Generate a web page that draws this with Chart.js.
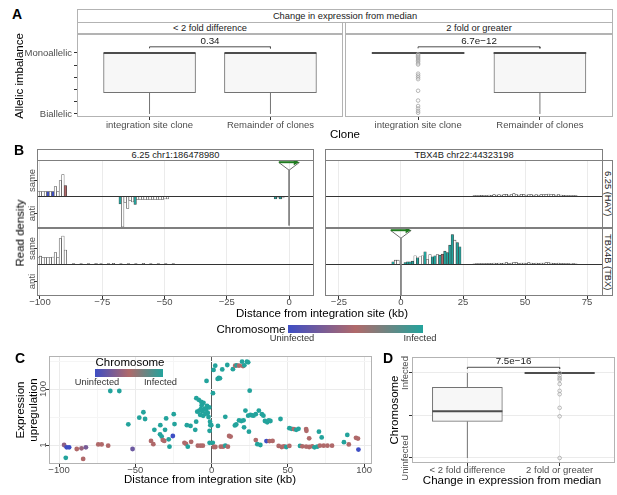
<!DOCTYPE html>
<html><head><meta charset="utf-8">
<script src="https://cdn.jsdelivr.net/npm/chart.js@4.4.1/dist/chart.umd.min.js"></script>
<style>
html,body{margin:0;padding:0;background:#fff}
body{width:617px;height:495px;position:relative;overflow:hidden;font-family:"Liberation Sans",Arial,Helvetica,sans-serif}
.strip{position:absolute;box-sizing:border-box;border:1px solid #b3b3b3;background:#fff;color:#1a1a1a;font-size:9.3px;display:flex;align-items:center;justify-content:center;white-space:nowrap;overflow:hidden}
.vstrip{writing-mode:vertical-rl}
.lbl{position:absolute;white-space:nowrap;line-height:1;color:#000}
.vlbl{writing-mode:vertical-rl}
.grad{position:absolute}
</style></head><body>
<script>
// ================= DATA =================
// Panel A : allelic imbalance (0 = Biallelic, 1 = Monoallelic)
const aFacets = ['< 2 fold difference', '2 fold or greater'];
const aClones = ['integration site clone', 'Remainder of clones'];
const aYLabels = ['Biallelic', 'Monoallelic'];
// box stats: [lower whisker, Q1, median, Q3, upper whisker]
const aSmallInt = [0, 0.35, 1, 1, 1];
const aSmallRem = [0, 0.35, 1, 1, 1];
const aLargeInt = [1, 1, 1, 1, 1];
const aLargeRem = [0, 0.35, 1, 1, 1];
const aLargeIntOutliers = [0.98,0.96,0.94,0.92,0.9,0.88,0.86,0.83,0.81,0.66,0.63,0.6,0.57,0.38,0.22,0.13,0.09,0.05,0.02];
const aPValues = ['0.34', '6.7e\u221212'];

// Panel B : read density (positive = same strand, negative = anti)
const bFacets = ['6.25 chr1:186478980', 'TBX4B chr22:44323198'];
const bClones = ['6.25 (HAY)', 'TBX4B (TBX)'];
const bHayChr1SameX = [-100.8,-99.8,-98.8,-97.8,-96.8,-95.8,-94.8,-93.8,-92.8,-91.8,-90.8,-89.8];
const bHayChr1SameY = [5,5,5,5,5,5,5,10,5,16,22,11];
const bHayChr1SameC = [null,null,null,null,0,null,0,null,null,null,null,0.5];
const bHayChr1AntiX = [-67.8,-66.8,-65.8,-64.8,-63.8,-62.8,-61.8,-60.8,-59.8,-58.8,-57.8,-56.8,-55.8,-54.8,-53.8,-52.8,-51.8,-50.8,-49.8,-48.8,-5.5,-4.5,-3.5,-2.5];
const bHayChr1AntiY = [-7.5,-30.5,-6,-12,-4,-5.5,-8,-3,-3,-3,-3,-3,-3,-3,-3,-3,-3,-3,-2.5,-2.5,-2.5,-1.5,-2.5,-1.5];
const bHayChr1AntiC = [1,null,null,null,null,null,1,null,null,null,null,null,null,null,null,null,null,null,null,null,1,null,1,null];
const bChr22SmallX = [29.5,30.5,31.5,32.5,33.5,34.5,35.5,36.5,37.5,38.5,39.5,40.5,41.5,42.5,43.5,44.5,45.5,46.5,47.5,48.5,49.5,50.5,51.5,52.5,53.5,54.5,55.5,56.5,57.5,58.5,59.5,60.5,61.5,62.5,63.5,64.5,65.5,66.5,67.5,68.5,69.5,70.5];
const bHayChr22SameY = [0.8,1,0.8,1.2,1,1,1.5,1.2,1.8,1.5,2,1.5,1.8,2.2,1.5,2,2.8,2,1.5,2.2,1.8,1.5,2,1.8,1.5,2,1.5,1.8,2,2.2,2.5,2,1.8,1.5,2,1.5,1.2,1,1,0.8,1,0.8];
const bTbxChr1SameX = [-100.8,-99.8,-98.8,-97.8,-96.8,-95.8,-94.8,-93.8,-92.8,-91.8,-90.8,-89.8,-86.5,-83.5,-80.5,-77.5,-75.5,-72.5,-70.5,-67.5,-64.5,-61.5,-58.5,-55.5,-52.5,-49.5,-46.5];
const bTbxChr1SameY = [7,8.3,7,7,7,7,7.5,12,7,26,28.5,14.5,1,0.8,1,1.2,1,1,1.2,0.8,1,1,1.2,0.8,1,0.8,1];
const bTbxChr22SameX = [-3.2,-2.2,-1.2,1.7,2.7,3.7,4.7,5.7,6.7,7.7,8.7,9.7,10.7,11.7,12.7,13.7,14.7,15.7,16.7,17.7,18.7,19.7,20.7,21.7,22.7,23.7];
const bTbxChr22SameY = [2.7,4.3,4.3,2,2.7,2.7,3.3,8.7,6.7,7.7,8.7,12.7,5,10,7.7,8.7,10,9.3,10.3,13.3,12,19.3,30,24.3,22,17.7];
const bTbxChr22SameC = [1,null,null,1,1,1,1,null,1,null,null,1,null,null,1,1,null,1,0.5,1,1,1,1,null,1,1];
const bTbxChr22SmallY = [0.6,0.8,0.8,1,0.8,1,1.2,1,1.5,1.2,1.5,1.2,1.5,1.8,1.2,1.5,2.2,1.8,1.2,1.5,1.5,1.2,1.8,1.5,1.2,1.5,1.2,1.5,1.5,1.8,2,1.5,1.2,1.2,1.5,1.2,1,0.8,0.8,0.6,0.8,0.6];
const bSameAnti = ['same', 'anti'];
const bLeftTicks = [-100, -75, -50, -25, 0];
const bRightTicks = [-25, 0, 25, 50, 75];

// Panel C : expression upregulation vs distance (chromosome 0 = uninfected, 1 = infected)
const cDist = [-96.7,-95.0,-93.4,-88.4,-85.3,-82.4,-95.6,-84.2,-74.3,-72.1,-67.8,-66.4,-60.5,-54.6,-51.8,-47.4,-44.7,-43.6,-39.7,-38.2,
-37.5,-33.6,-33.8,-32.7,-32.0,-31.0,-29.8,-30.5,-28.1,-27.6,-25.4,-24.8,-24.3,-17.8,-16.8,-16.2,-15.6,-13.8,-13.4,-9.0,
-7.2,-5.7,-10.7,-10.1,-9.4,-10.0,-8.4,-6.8,-5.3,-8.0,-7.0,-6.0,-4.5,-3.5,-2.5,-7.5,-5.5,-4.0,-2.0,-1.5,
-3.0,-6.5,-1.0,-0.8,-1.3,-1.3,0.8,-3.3,1.3,2.4,4.0,4.8,5.5,0.9,7.0,10.3,14.0,15.5,16.5,18.0,
20.0,20.6,21.5,23.2,24.0,25.0,9.0,4.2,-0.2,1.5,2.5,6.0,7.5,9.0,10.7,11.5,12.5,15.3,16.2,18.0,
19.5,21.0,22.2,24.0,25.5,26.5,27.5,29.0,31.0,33.0,34.0,35.0,36.5,38.6,37.5,24.5,21.3,29.0,30.0,32.0,
36.0,38.0,40.0,44.0,46.0,47.5,49.0,51.0,45.2,51.0,52.5,54.0,55.5,57.0,62.0,62.2,58.0,59.5,62.0,64.0,
66.0,67.5,64.0,69.3,70.4,72.2,71.0,73.5,76.0,79.0,86.8,89.0,90.0,94.7,96.0,96.3];
const cUpreg = [1.0,0.83,0.83,0.72,0.76,0.83,0.35,0.32,1.05,1.05,0.95,85,85,5.5,0.72,9.5,14.8,8.5,1.4,1.07,
3.5,5.1,2.4,2.0,1.5,1.4,8.9,3.5,1.6,0.87,2.1,12.6,5.6,1.2,1.1,5.1,0.87,4.8,1.3,0.95,
0.95,0.95,3.5,6.8,15.5,47,41,35,32,17,19,16,20,18,14,12,11,13,10,22,
25,26,6.8,5.1,3.2,1.2,1.2,195,480,680,230,250,240,71,500,720,510,680,700,680,
950,660,700,950,900,87,10.2,4.8,5.1,0.85,0.85,0.87,0.87,0.95,0.87,2.1,2.0,5.0,5.4,7.6,
7.2,7.6,17,11.2,12,11.5,11.2,12.6,17,12.6,11.2,7.2,6.5,7.2,7.5,3.0,4.3,1.5,1.07,1.0,
1.38,1.38,1.4,0.93,0.85,0.9,0.85,0.93,8.5,4.0,3.8,3.7,3.5,3.8,3.7,3.2,0.93,0.9,0.88,0.85,
0.9,0.83,1.74,0.87,3.0,1.86,0.95,0.95,0.95,0.95,1.26,2.3,1.05,1.8,1.7,0.69];
const cChrom = [0.35,0,0,0.5,0.4,0.25,1,0.5,0.5,0.5,0.5,1,1,1,0.2,1,1,1,0.5,0.5,
1,1,1,1,0.5,0.5,1,1,1,1,0,1,1,0.5,0.5,1,1,1,0.5,0.5,
0.5,0.5,1,1,1,1,1,1,1,1,1,1,1,1,1,1,1,1,1,1,
1,1,1,1,1,1,1,1,1,1,1,1,1,1,1,1,1,0.5,1,0.5,
1,0.5,1,1,1,1,1,1,1,0.5,0.5,0.5,0.5,1,0.5,0.5,0.5,1,1,1,
1,1,1,1,1,1,1,1,1,1,1,1,1,1,1,1,1,0.5,1,1,
0,0.5,0.5,0.5,0.5,0.5,1,0.5,1,1,1,0.5,1,1,0.5,0.5,1,0.5,0.5,0.5,
0.5,1,0.5,1,1,1,0.5,0.5,0.5,0.5,1,1,0.5,0.5,0.5,0];
const cYTicks = [1, 100];
const cXTicks = [-100, -50, 0, 50, 100];

// Panel D : chromosome by expression change
const dCategories = ['< 2 fold difference', '2 fold or greater'];
const dYLabels = ['Uninfected', 'Infected'];
const dBoxSmall = [0, 0.43, 0.55, 0.83, 1];
const dBoxLarge = [1, 1, 1, 1, 1];
const dLargeOutliers = [1.0,0.97,0.94,0.92,0.87,0.79,0.75,0.59,0.49,0.0];
const dPValue = '7.5e\u221216';

// ================= SETUP =================
const FONT = '"Liberation Sans", Arial, Helvetica, sans-serif';
Chart.defaults.font.family = FONT;
Chart.defaults.font.size = 9.5;
Chart.defaults.color = '#4d4d4d';
Chart.defaults.animation = false;
Chart.defaults.events = [];
Chart.defaults.plugins.legend.display = false;
Chart.defaults.plugins.tooltip.enabled = false;
const TICK = '#4d4d4d';
const LOW = [62,78,196], MID = [176,105,106], HIGH = [35,163,156];
const rgb = c => `rgb(${c[0]},${c[1]},${c[2]})`;
function chromColor(v){
  if (v === null || v === undefined) return '#ffffff';
  let a, b, t;
  if (v <= 0.5) { a = LOW; b = MID; t = v / 0.5; } else { a = MID; b = HIGH; t = (v - 0.5) / 0.5; }
  return rgb(a.map((q, i) => Math.round(q + (b[i] - q) * t)));
}
const minus = v => (v < 0 ? '\u2212' + Math.abs(v) : String(v));

const framePlugin = { id:'frame', afterDatasetsDraw(ch, a, o){
  if (!o || !o.color) return;
  const c = ch.chartArea, x = ch.ctx; x.save(); x.strokeStyle = o.color; x.lineWidth = 1;
  x.strokeRect(c.left + 0.5, c.top + 0.5, c.right - c.left - 1, c.bottom - c.top - 1); x.restore(); } };
// draws tick labels / annotations at positions given by the chart's own scales
const txtPlugin = { id:'txt', afterDraw(ch, a, o){
  const items = (o && o.items) || []; const ctx = ch.ctx; const ca = ch.chartArea;
  for (let i = 0; i < items.length; i++) {
    const it = items[i];
    const px = (it.xl !== undefined) ? ca.left + it.xl : ch.scales.x.getPixelForValue(it.x);
    const py = (it.yb !== undefined) ? ca.bottom + it.yb : ch.scales.y.getPixelForValue(it.y);
    ctx.save(); ctx.translate(px + (it.dx || 0), py + (it.dy || 0));
    if (it.rot) ctx.rotate(it.rot * Math.PI / 180);
    ctx.font = (it.size || 9.5) + 'px ' + FONT; ctx.fillStyle = it.color || TICK;
    ctx.textAlign = it.align || 'center'; ctx.textBaseline = it.base || 'middle';
    ctx.fillText(it.text, 0, 0); ctx.restore();
  } } };
Chart.register(framePlugin, txtPlugin);

function xLabels(values, fn, yb){ return values.map(v => ({ x: v, yb: yb, text: fn(v) })).filter(it => it.text !== ''); }
function yLabels(values, fn, xl, rot, align){ return values.map(v => ({ y: v, xl: xl, text: fn(v), rot: rot || 0, align: align || 'center' })).filter(it => it.text !== ''); }

function mkCanvas(x, y, w, h, m){
  const W = w + m.l + m.r, H = h + m.t + m.b;
  const d = document.createElement('div');
  d.style.cssText = `position:absolute;left:${x - m.l}px;top:${y - m.t}px;width:${W}px;height:${H}px`;
  const c = document.createElement('canvas'); c.width = W; c.height = H;
  c.style.width = W + 'px'; c.style.height = H + 'px';
  d.appendChild(c); document.body.appendChild(d); return c;
}
function mkChart(rect, m, cfg){
  const c = mkCanvas(rect[0], rect[1], rect[2], rect[3], m);
  cfg.options.responsive = false; cfg.options.maintainAspectRatio = false;
  cfg.options.layout = { autoPadding: false, padding: { left: 0, top: m.t, right: m.r, bottom: 0 } };
  return new Chart(c.getContext('2d'), cfg);
}
function axis(kind, o){
  return {
    type: o.type || 'linear', min: o.min, max: o.max, offset: false, bounds: 'data',
    afterBuildTicks: sc => { sc.ticks = o.ticks.map(v => ({ value: v })); },
    afterFit: kind === 'x' ? (sc => { sc.height = o.size; }) : (sc => { sc.width = o.size; }),
    grid: { display: true, offset: false, drawOnChartArea: !!o.grid, color: o.grid || 'rgba(0,0,0,0)', lineWidth: 1,
            drawTicks: !!o.tickMarks, tickLength: 3, tickColor: o.tickColor || '#333' },
    border: { display: false },
    ticks: { display: false }
  };
}
function seg(pts, color, width, order){
  return { type:'line', data: pts.map(p => ({ x: p[0], y: p[1] })), borderColor: color, borderWidth: width,
           pointRadius: 0, fill: false, tension: 0, order: order };
}
function boxSets(x, s, half, px){
  const out = [];
  if (s[3] > s[1]) out.push({ type:'bar', data:[{ x: x, y: [s[1], s[3]] }], backgroundColor:'#f7f7f7', borderColor:'#737373',
    borderWidth: 1, borderSkipped: false, barThickness: px, grouped: false, order: 5 });
  if (s[1] > s[0]) out.push(seg([[x, s[0]], [x, s[1]]], '#737373', 1, 4));
  if (s[4] > s[3]) out.push(seg([[x, s[3]], [x, s[4]]], '#737373', 1, 4));
  out.push(seg([[x - half, s[2]], [x + half, s[2]]], '#4d4d4d', 2, 2));
  return out;
}
function outlierSet(x, ys){
  return { type:'scatter', data: ys.map(v => ({ x: x, y: v })), pointRadius: 1.8, pointBorderWidth: 0.8,
           pointBorderColor:'#a6a6a6', pointBackgroundColor:'rgba(0,0,0,0)', order: 1 };
}
function bracket(x1, x2, y0, y1){ return seg([[x1, y0], [x1, y1], [x2, y1], [x2, y0]], '#4d4d4d', 1, 1); }

function lbl(text, cx, cy, size, opts){
  opts = opts || {};
  const d = document.createElement('div'); d.className = 'lbl' + (opts.vert ? ' vlbl' : ''); d.textContent = text;
  d.style.left = cx + 'px'; d.style.top = cy + 'px'; d.style.fontSize = size + 'px';
  if (opts.bold) d.style.fontWeight = 'bold';
  if (opts.color) d.style.color = opts.color;
  let tf = 'translate(-50%,-50%)';
  if (opts.vert) tf += ' rotate(180deg)';
  else if (opts.rot) tf += ' rotate(' + opts.rot + 'deg)';
  d.style.transform = tf;
  document.body.appendChild(d);
}
function strip(text, x, y, w, h, vertical, border){
  const d = document.createElement('div'); d.className = 'strip' + (vertical ? ' vstrip' : '');
  d.style.cssText += `left:${x}px;top:${y}px;width:${w}px;height:${h}px;` + (border ? `border-color:${border};` : '');
  d.textContent = text; document.body.appendChild(d);
}
function gradBar(x, y, w, h){
  const d = document.createElement('div'); d.className = 'grad';
  d.style.cssText += `left:${x}px;top:${y}px;width:${w}px;height:${h}px;background:linear-gradient(to right,${rgb(LOW)},${rgb(MID)},${rgb(HIGH)})`;
  document.body.appendChild(d);
}

// ================= PANEL A =================
const aY = { min: -0.05, max: 1.31 };
const aYTickFn = v => (v === 0 ? aYLabels[0] : (v === 1 ? aYLabels[1] : ''));
mkChart([77, 34, 266, 83], { l: 77, t: 0, r: 0, b: 16 }, {
  type: 'bar',
  data: { datasets: [...boxSets(1, aSmallInt, 0.38, 92), ...boxSets(2, aSmallRem, 0.38, 92), bracket(1, 2, 1.075, 1.1)] },
  options: { scales: {
      x: axis('x', { min: 0.4, max: 2.6, ticks: [1, 2], size: 16, tickMarks: true }),
      y: axis('y', { min: aY.min, max: aY.max, ticks: [0, 0.2, 0.4, 0.6, 0.8, 1], size: 77, tickMarks: true }) },
    plugins: { frame: { color: '#b3b3b3' }, txt: { items: [
      { x: 1.5, y: 1.1, text: aPValues[0], base: 'bottom', dy: -1, size: 9.8, color: '#1a1a1a' },
      ...xLabels([1, 2], v => aClones[v - 1], 8),
      ...yLabels([0, 0.2, 0.4, 0.6, 0.8, 1], aYTickFn, -5, 0, 'right') ] } } }
});
mkChart([345, 34, 268, 83], { l: 0, t: 0, r: 0, b: 16 }, {
  type: 'bar',
  data: { datasets: [...boxSets(1, aLargeInt, 0.38, 92), outlierSet(1, aLargeIntOutliers), ...boxSets(2, aLargeRem, 0.38, 92), bracket(1, 2, 1.075, 1.1)] },
  options: { scales: {
      x: axis('x', { min: 0.4, max: 2.6, ticks: [1, 2], size: 16, tickMarks: true }),
      y: axis('y', { min: aY.min, max: aY.max, ticks: [0, 1], size: 0 }) },
    plugins: { frame: { color: '#b3b3b3' }, txt: { items: [
      { x: 1.5, y: 1.1, text: aPValues[1], base: 'bottom', dy: -1, size: 9.8, color: '#1a1a1a' },
      ...xLabels([1, 2], v => aClones[v - 1], 8) ] } } }
});
strip('Change in expression from median', 77, 9, 536, 14);
strip(aFacets[0], 77, 22, 266, 12);
strip(aFacets[1], 345, 22, 268, 12);
lbl('A', 17, 14, 14, { bold: true });
lbl('Allelic imbalance', 20, 76, 11.5, { rot: -90 });
lbl('Clone', 345, 135, 11.5);

// ================= PANEL B =================
const bY = { min: -31.5, max: 36.5 };
const BFRAME = '#7f7f7f';
function bBars(xs, ys, cs){
  return { type:'bar', data: xs.map((x, i) => ({ x: x, y: ys[i] })), backgroundColor: xs.map((x, i) => chromColor(cs ? cs[i] : null)),
           borderColor:'#3a3a3a', borderWidth: 0.6, barThickness: 2.5, grouped: false, order: 5 };
}
function geneMarker(bottom){
  return [
    seg([[0, 26.3], [0, bottom]], '#808080', 1, 3),
    seg([[-4.1, 34], [4.1, 34], [0, 26.3], [-4.1, 34]], '#6e6e6e', 1, 2),
    seg([[-4.1, 34.3], [2.6, 34.3]], '#1f7a1f', 2, 1),
    { type:'scatter', data: [{ x: 2.6, y: 34.3 }], pointStyle:'triangle', pointRotation: 90, pointRadius: 3.6,
      pointBackgroundColor:'#1f7a1f', pointBorderColor:'#1f7a1f', pointBorderWidth: 0, order: 0 }
  ];
}
function bChart(rect, m, xr, xticks, sets, showX, showY, marker){
  const ds = sets.slice();
  ds.push(seg([[xr[0], 0], [xr[1], 0]], '#333333', 1.1, 4));
  if (marker) ds.push(...marker);
  let items = [];
  if (showY) items = items.concat([{ xl: -5, y: 16, text: bSameAnti[0], rot: -90 }, { xl: -5, y: -17, text: bSameAnti[1], rot: -90 }]);
  if (showX) items = items.concat(xLabels(xticks, minus, 6.5));
  return mkChart(rect, m, {
    type: 'bar', data: { datasets: ds },
    options: { scales: {
        x: axis('x', { min: xr[0], max: xr[1], ticks: xticks, size: m.b, grid: '#ebebeb', tickMarks: showX }),
        y: axis('y', { min: bY.min, max: bY.max, ticks: [-17, 16], size: m.l, tickMarks: showY }) },
      plugins: { frame: { color: BFRAME }, txt: { items: items } } }
  });
}
const bLeftX = [-101.2, 10.0], bRightX = [-30.6, 81.4];
bChart([37, 160, 277, 68], { l: 37, t: 0, r: 0, b: 0 }, bLeftX, bLeftTicks,
  [bBars(bHayChr1SameX, bHayChr1SameY, bHayChr1SameC), bBars(bHayChr1AntiX, bHayChr1AntiY, bHayChr1AntiC)], false, true, geneMarker(-29));
bChart([37, 228, 277, 68], { l: 37, t: 0, r: 0, b: 16 }, bLeftX, bLeftTicks,
  [bBars(bTbxChr1SameX, bTbxChr1SameY, null)], true, true, null);
bChart([325, 160, 278, 68], { l: 0, t: 0, r: 0, b: 0 }, bRightX, bRightTicks,
  [bBars(bChr22SmallX, bHayChr22SameY, null)], false, false, null);
bChart([325, 228, 278, 68], { l: 0, t: 0, r: 0, b: 16 }, bRightX, bRightTicks,
  [bBars(bTbxChr22SameX, bTbxChr22SameY, bTbxChr22SameC), bBars(bChr22SmallX, bTbxChr22SmallY, null)], true, false, geneMarker(-33));
strip(bFacets[0], 37, 149, 277, 12, false, BFRAME);
strip(bFacets[1], 325, 149, 278, 12, false, BFRAME);
strip(bClones[0], 602, 160, 11, 68, true, BFRAME);
strip(bClones[1], 602, 228, 11, 68, true, BFRAME);
lbl('B', 19, 150, 14, { bold: true });
lbl('Read density', 21, 233, 11.5, { vert: true });
lbl('Distance from integration site (kb)', 322, 314, 11.5);
// shared colour legend
lbl('Chromosome', 251, 330, 11.5);
gradBar(288, 325, 135, 8);
lbl('Uninfected', 292, 339, 9.3, { color: '#333' });
lbl('Infected', 420, 339, 9.3, { color: '#333' });

// ================= PANEL C =================
const cXGrid = ctx => { const v = ctx.tick.value; return v === 0 ? '#595959' : (v % 50 === 0 ? '#ebebeb' : '#f5f5f5'); };
const cYGrid = ctx => { const v = ctx.tick.value; return (v === 1 || v === 100) ? '#ebebeb' : '#f5f5f5'; };
const cXTickCol = ctx => (cXTicks.includes(ctx.tick.value) ? '#333' : 'rgba(0,0,0,0)');
const cYTickCol = ctx => (cYTicks.includes(ctx.tick.value) ? '#333' : 'rgba(0,0,0,0)');
mkChart([49, 356, 323, 108], { l: 49, t: 0, r: 0, b: 16 }, {
  type: 'scatter',
  data: { datasets: [{ data: cDist.map((x, i) => ({ x: x, y: cUpreg[i] })), pointRadius: 2.4, pointBorderWidth: 0,
                       pointBackgroundColor: cChrom.map(chromColor) }] },
  options: { scales: {
      x: axis('x', { min: -106.6, max: 105.2, ticks: [-100, -75, -50, -25, 0, 25, 50, 75, 100], size: 16, tickMarks: true, grid: cXGrid, tickColor: cXTickCol }),
      y: axis('y', { type: 'logarithmic', min: 0.21, max: 1510, ticks: [1, 10, 100, 1000], size: 49, tickMarks: true, grid: cYGrid, tickColor: cYTickCol }) },
    plugins: { frame: { color: '#b3b3b3' },
      txt: { items: [...yLabels(cYTicks, v => String(v), -6, -90), ...xLabels(cXTicks, minus, 6.5)] } } }
});
lbl('C', 20, 358, 14, { bold: true });
lbl('Chromosome', 130, 363, 11.5);
gradBar(95, 369, 68, 8);
lbl('Uninfected', 97, 382.5, 9.3, { color: '#333' });
lbl('Infected', 160.5, 382.5, 9.3, { color: '#333' });
lbl('Expression', 21, 410, 11.5, { rot: -90 });
lbl('upregulation', 34, 410, 11.5, { rot: -90 });
lbl('Distance from integration site (kb)', 210, 480, 11.5);

// ================= PANEL D =================
mkChart([412, 357, 203, 106], { l: 30, t: 4, r: 0, b: 22 }, {
  type: 'bar',
  data: { datasets: [...boxSets(1, dBoxSmall, 0.38, 70), ...boxSets(2, dBoxLarge, 0.38, 70), outlierSet(2, dLargeOutliers), bracket(1, 2, 1.047, 1.067)] },
  options: { scales: {
      x: axis('x', { min: 0.4, max: 2.6, ticks: [1, 2], size: 22, grid: '#ebebeb', tickMarks: true }),
      y: axis('y', { min: -0.059, max: 1.188, ticks: [0, 0.5, 1], size: 30, grid: '#ebebeb', tickMarks: true }) },
    plugins: { frame: { color: '#b3b3b3' },
      txt: { items: [{ x: 1.5, y: 1.067, text: dPValue, base: 'bottom', dy: -1, size: 9.8, color: '#1a1a1a' },
                     ...yLabels([0, 1], v => dYLabels[v], -7, -90),
                     ...xLabels([1, 2], v => dCategories[v - 1], 7)] } } }
});
lbl('D', 388, 358, 14, { bold: true });
lbl('Chromosome', 395, 410, 11.5, { rot: -90 });
lbl('Change in expression from median', 512, 481, 11.5);
</script>
</body></html>
